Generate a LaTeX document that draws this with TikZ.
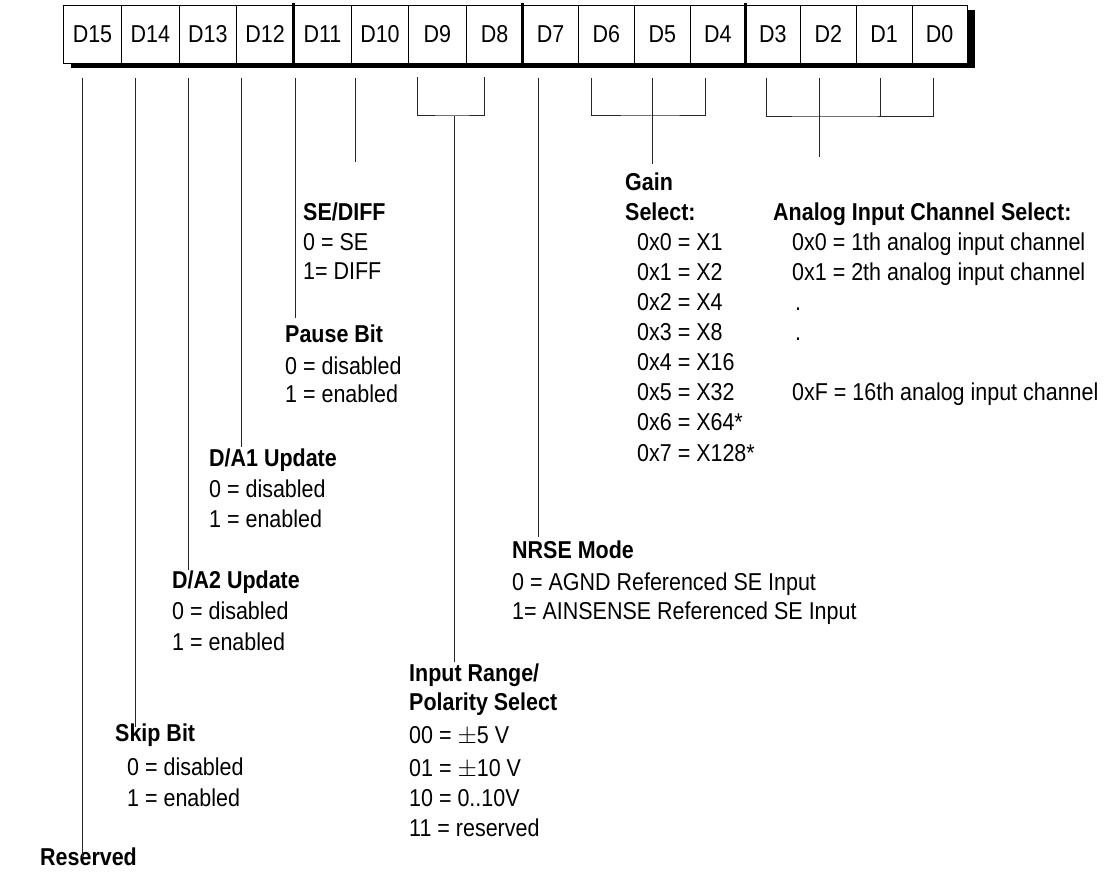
\documentclass[tikz,border=0pt]{standalone}
\usepackage{fontspec}
\setmainfont{Liberation Sans}[FakeStretch=0.88]
\newcommand\lblfont{\fontsize{24.4}{30}\selectfont}
\tikzset{
  lbl/.style={anchor=base west, inner sep=0pt, font=\lblfont},
  hd/.style={anchor=base west, inner sep=0pt, font=\lblfont\bfseries},
  conn/.style={draw=black!85, line width=1pt},
  cell/.style={draw=black, line width=0.9pt, fill=white, minimum height=58pt,
    inner sep=0pt, anchor=north west, font=\lblfont},
  divider/.style={line width=3pt, draw=black}
}
\begin{document}
\begin{tikzpicture}[x=1pt,y=-1pt]
\useasboundingbox (0,0) rectangle (1114,874);
% shadow
\fill[black] (71,10) rectangle (975,68);
% register cells
\foreach \l/\r/\t/\n in {63/121/D15/15, 121/178.7/D14/14, 178.7/236/D13/13, 236/293.3/D12/12,
  293.3/350.7/D11/11, 350.7/408.3/D10/10, 408.3/465.7/D9/9, 465.7/522.5/D8/8,
  522.5/578/D7/7, 578/634/D6/6, 634/690/D5/5, 690/745/D4/4,
  745/800/D3/3, 800/855.7/D2/2, 855.7/911.7/D1/1, 911.7/966.7/D0/0}
  \node[cell, minimum width={(\r-\l)*1pt}] (c\n) at (\l,5) {\t};
% thick dividers
\draw[divider] ([yshift=2pt]c11.north west) -- (c11.south west);
\draw[divider] ([yshift=2pt]c7.north west) -- (c7.south west);
\draw[divider] ([yshift=2pt]c3.north west) -- (c3.south west);

% ---------- labels ----------
% SE/DIFF
\node[hd]  (sehd) at (303,221) {SE/DIFF};
\node[lbl] (se0)  at (303,251) {0 = SE};
\node[lbl] (se1)  at (303,280) {1= DIFF};
% Pause Bit
\node[hd]  (pahd) at (285,343) {Pause Bit};
\node[lbl] (pa0)  at (285,375) {0 = disabled};
\node[lbl] (pa1)  at (285,403) {1 = enabled};
% D/A1
\node[hd]  (d1hd) at (209,466) {D/A1 Update};
\node[lbl] (d10)  at (209,497) {0 = disabled};
\node[lbl] (d11)  at (209,527) {1 = enabled};
% D/A2
\node[hd]  (d2hd) at (172,588) {D/A2 Update};
\node[lbl] (d20)  at (172,619) {0 = disabled};
\node[lbl] (d21)  at (172,650) {1 = enabled};
% Skip Bit
\node[hd]  (skhd) at (115,741) {Skip Bit};
\node[lbl] (sk0)  at (127,775) {0 = disabled};
\node[lbl] (sk1)  at (127,806) {1 = enabled};
% Reserved
\node[hd]  (res)  at (40,865) {Reserved};
% Input range
\node[hd]  (irhd) at (409,681) {Input Range/};
\node[hd]  (irhd2) at (409,710) {Polarity Select};
\node[lbl] (ir0)  at (409,743) {00 = $\pm$5 V};
\node[lbl] (ir1)  at (409,776) {01 = $\pm$10 V};
\node[lbl] (ir2)  at (409,806) {10 = 0..10V};
\node[lbl] (ir3)  at (409,836) {11 = reserved};
% NRSE
\node[hd]  (nrhd) at (512,558) {NRSE Mode};
\node[lbl] (nr0)  at (512,590) {0 = AGND Referenced SE Input};
\node[lbl] (nr1)  at (512,619) {1= AINSENSE Referenced SE Input};
% Gain
\node[hd]  (gahd) at (625,191) {Gain};
\node[hd]  (gahd2) at (625,221) {Select:};
\node[lbl] (ga0)  at (637,251) {0x0 = X1};
\node[lbl] (ga1)  at (637,281) {0x1 = X2};
\node[lbl] (ga2)  at (637,311) {0x2 = X4};
\node[lbl] (ga3)  at (637,341) {0x3 = X8};
\node[lbl] (ga4)  at (637,371) {0x4 = X16};
\node[lbl] (ga5)  at (637,401) {0x5 = X32};
\node[lbl] (ga6)  at (637,431) {0x6 = X64*};
\node[lbl] (ga7)  at (637,461) {0x7 = X128*};
% Analog input channel
\node[hd]  (anhd) at (773,221) {Analog Input Channel Select:};
\node[lbl] (an0)  at (792,251) {0x0 = 1th analog input channel};
\node[lbl] (an1)  at (792,281) {0x1 = 2th analog input channel};
\node[lbl] (an2)  at (795,311) {.};
\node[lbl] (an3)  at (795,341) {.};
\node[lbl] (anF)  at (792,401) {0xF = 16th analog input channel};

% ---------- connectors ----------
\coordinate (t15) at (82,78);   \coordinate (e15) at (82,858);
\coordinate (t14) at (135,78);  \coordinate (e14) at (135,727);
\coordinate (t13) at (188,78);  \coordinate (e13) at (188,570);
\coordinate (t12) at (241,78);  \coordinate (e12) at (241,447);
\coordinate (t11) at (295,78);  \coordinate (e11) at (295,318);
\coordinate (t10) at (355,78);  \coordinate (e10) at (355,162);
\draw[conn] (t15) -- (e15);
\draw[conn] (t14) -- (e14);
\draw[conn] (t13) -- (e13);
\draw[conn] (t12) -- (e12);
\draw[conn] (t11) -- (e11);
\draw[conn] (t10) -- (e10);
% D9/D8 bracket
\coordinate (b9) at (417,77);  \coordinate (b8) at (484,77);
\coordinate (s98) at (454,116); \coordinate (e98) at (454,662);
\draw[conn] (b9) |- (s98) -| (b8);
\draw[conn] (s98) -- (e98);
% D7
\coordinate (t7) at (538,78); \coordinate (e7) at (538,537);
\draw[conn] (t7) -- (e7);
% D6-D4 bracket
\coordinate (b6) at (591,78); \coordinate (b5) at (652,78); \coordinate (b4) at (705,78);
\coordinate (s64) at (652,116); \coordinate (e64) at (652,164);
\draw[conn] (b6) |- (s64) -| (b4);
\draw[conn] (b5) -- (e64);
% D3-D0 bracket
\coordinate (b3) at (766,78); \coordinate (b2) at (819,78);
\coordinate (b1) at (880,78); \coordinate (b0) at (933,78);
\coordinate (s30) at (819,117); \coordinate (e30) at (819,157);
\draw[conn] (b3) |- (s30) -| (b0);
\draw[conn] (b1) -- (b1 |- s30);
\draw[conn] (b2) -- (e30);
\end{tikzpicture}
\end{document}
